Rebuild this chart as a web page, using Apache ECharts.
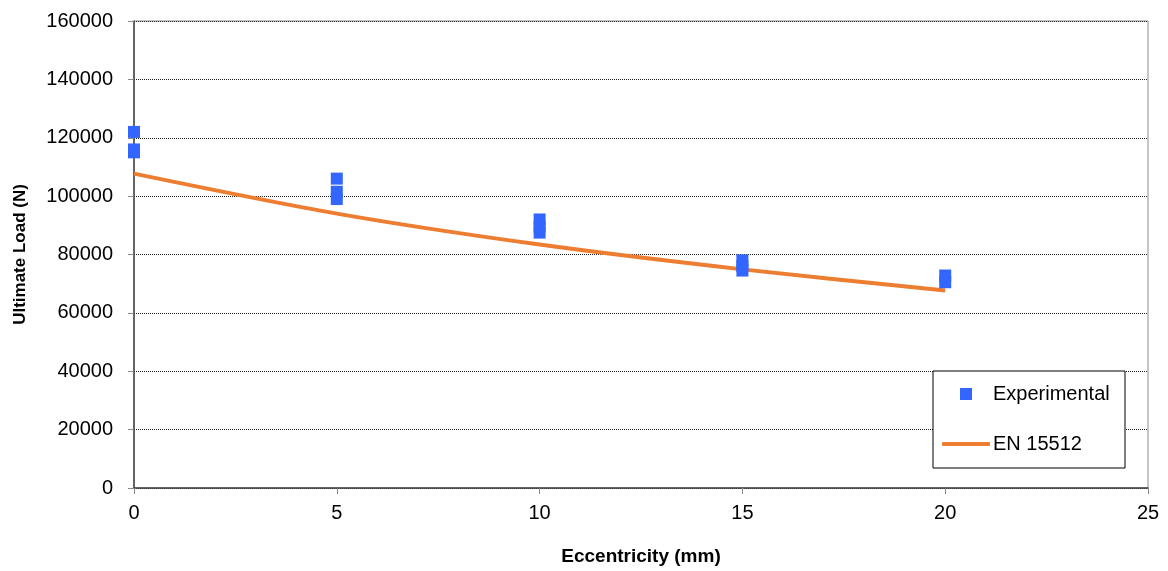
<!DOCTYPE html>
<html>
<head>
<meta charset="utf-8">
<script src="https://cdn.jsdelivr.net/npm/echarts@6/dist/echarts.min.js"></script>
<style>
  html, body { margin: 0; padding: 0; background: #fff; }
  #main { width: 1168px; height: 571px; }
</style>
</head>
<body>
<div id="main"></div>
<script>
// experimental test results (eccentricity mm, ultimate load N)
const expX = [0, 0, 0, 5, 5, 5, 10, 10, 10, 15, 15, 15, 20, 20]
const expY = [122000, 116000, 115000, 106000, 101500, 99000, 92000, 89500, 87500, 78000, 76000, 74500, 72800, 70500]
// EN 15512 design curve
const enX = [0, 5, 10, 15, 20]
const enY = [107700, 94000, 83400, 74900, 67700]

const font = 'Liberation Sans, Arial, sans-serif'

const myChart = echarts.init(document.getElementById('main'))
const option = {
  animation: false,
  backgroundColor: '#fff',
  textStyle: { fontFamily: font },
  grid: {
    left: 134,
    right: 20,
    top: 21,
    bottom: 82,
    show: true,
    borderColor: '#8c8c8c',
    borderWidth: 1
  },
  xAxis: {
    type: 'value',
    min: 0,
    max: 25,
    interval: 5,
    name: 'Eccentricity (mm)',
    nameLocation: 'middle',
    nameGap: 59,
    nameTextStyle: { fontFamily: font, fontSize: 19, fontWeight: 'bold', color: '#000' },
    axisLine: { show: true, lineStyle: { color: '#444', width: 1.5 } },
    axisTick: { show: true, length: 6, lineStyle: { color: '#888' } },
    axisLabel: { fontFamily: font, fontSize: 20, color: '#000', margin: 15 },
    splitLine: { show: false }
  },
  yAxis: {
    type: 'value',
    min: 0,
    max: 160000,
    interval: 20000,
    name: 'Ultimate Load (N)',
    nameLocation: 'middle',
    nameGap: 105,
    nameTextStyle: { fontFamily: font, fontSize: 17, fontWeight: 'bold', color: '#000' },
    axisLine: { show: true, lineStyle: { color: '#444', width: 1.5 } },
    axisTick: { show: true, length: 6, lineStyle: { color: '#888' } },
    axisLabel: { fontFamily: font, fontSize: 20, color: '#000', margin: 21, formatter: v => String(v) },
    splitLine: { show: true, lineStyle: { color: '#222', type: [1, 1], width: 1 } }
  },
  graphic: [
    {
      type: 'rect',
      z: 5,
      shape: { x: 933, y: 371, width: 192, height: 97 },
      style: { fill: '#fff', stroke: '#000', lineWidth: 1 }
    }
  ],
  legend: [
    {
      data: ['Experimental'],
      left: 960,
      top: 384,
      padding: 0,
      z: 6,
      itemWidth: 12,
      itemHeight: 12,
      icon: 'rect',
      textStyle: { fontFamily: font, fontSize: 20, color: '#000', padding: [0, 0, 0, 16] }
    },
    {
      data: ['EN 15512'],
      left: 942,
      top: 434,
      padding: 0,
      z: 6,
      itemWidth: 48,
      itemHeight: 4,
      icon: 'roundRect',
      textStyle: { fontFamily: font, fontSize: 20, color: '#000', padding: [0, 0, 0, -2] }
    }
  ],
  series: [
    {
      name: 'EN 15512',
      type: 'line',
      data: enX.map((x, i) => [x, enY[i]]),
      symbol: 'none',
      smooth: 0.3,
      lineStyle: { color: '#ED7D31', width: 4 },
      itemStyle: { color: '#ED7D31' },
      z: 2
    },
    {
      name: 'Experimental',
      type: 'scatter',
      data: expX.map((x, i) => [x, expY[i]]),
      symbol: 'rect',
      symbolSize: [12, 12],
      itemStyle: { color: '#3366FF', opacity: 1 },
      z: 3
    }
  ]
}
myChart.setOption(option)
</script>
</body>
</html>
